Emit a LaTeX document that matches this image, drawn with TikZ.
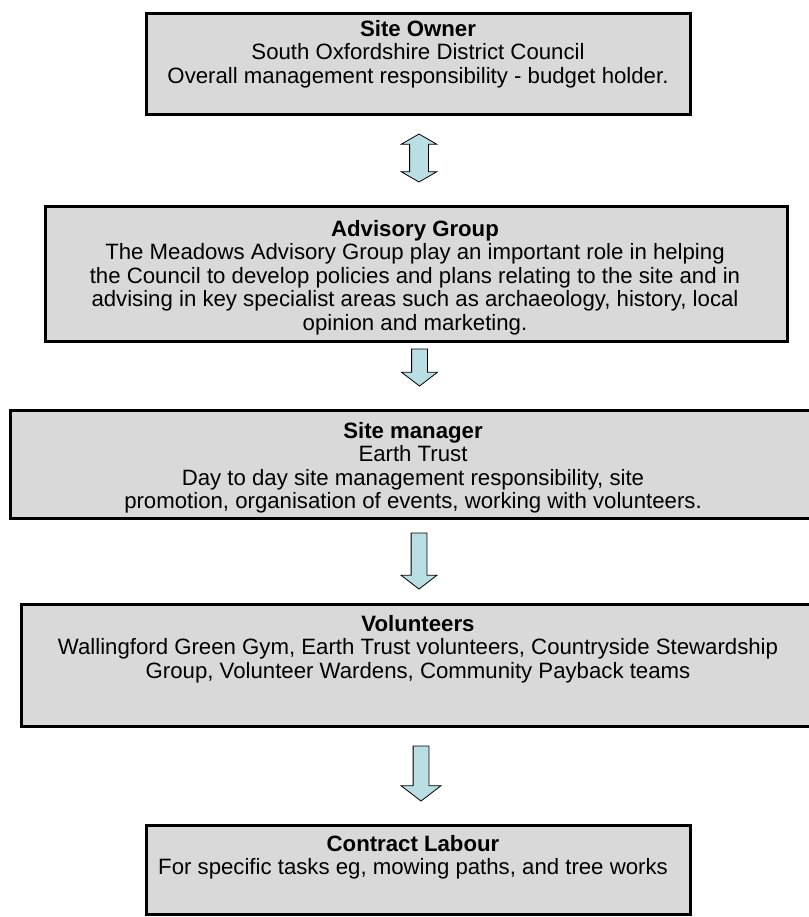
\documentclass[tikz,border=0pt]{standalone}
\usepackage{fontspec}
\setmainfont{Liberation Sans}
\usetikzlibrary{shapes.arrows}
\definecolor{boxgrey}{RGB}{217,217,217}
\definecolor{arrowblue}{RGB}{185,222,228}
\tikzset{orgbox/.style={rectangle, draw=black, line width=3pt, fill=boxgrey, inner sep=0pt},
  boxtext/.style={anchor=north, align=center, inner sep=0pt, font=\fontsize{22.2}{23.5}\selectfont},
  downarrow/.style={single arrow, draw=black, line width=0.8pt, fill=arrowblue, rotate=-90,
    inner xsep=0pt, inner ysep=7.5pt, single arrow head extend=10pt, single arrow head indent=0pt,
    single arrow tip angle=105},
  botharrow/.style={double arrow, draw=black, line width=0.8pt, fill=arrowblue, rotate=90,
    inner xsep=0pt, inner ysep=9pt, double arrow head extend=8.5pt, double arrow head indent=0pt,
    double arrow tip angle=120}}

\begin{document}
\begin{tikzpicture}[x=1pt,y=-1pt]
   \useasboundingbox (0,0) rectangle (808,917);
   % boxes
   \node[orgbox, minimum width=544pt, minimum height=101pt] (owner) at (418,64.5) {};
   \node[orgbox, minimum width=742pt, minimum height=134pt] (advisory) at (416,274) {};
   \node[orgbox, minimum width=808pt, minimum height=108pt] (manager) at (414,464) {};
   \node[orgbox, minimum width=794pt, minimum height=122pt] (volunteers) at (418,665) {};
   \node[orgbox, minimum width=544pt, minimum height=89pt] (contract) at (418,869.5) {};
   % texts
   \node[boxtext] (ownertxt) at (418,20) {\textbf{Site Owner}\\South Oxfordshire District Council\\Overall management responsibility - budget holder.};
   \node[boxtext] (advisorytxt) at (415,220) {\textbf{Advisory Group}\\The Meadows Advisory Group play an important role in helping\\the Council to develop policies and plans relating to the site and in\\advising in key specialist areas such as archaeology, history, local\\opinion and marketing.};
   \node[boxtext] (managertxt) at (413,422) {\textbf{Site manager}\\Earth Trust\\Day to day site management responsibility, site\\promotion, organisation of events, working with volunteers.};
   \node[boxtext] (volunteerstxt) at (418,615) {\textbf{Volunteers}\\Wallingford Green Gym, Earth Trust volunteers, Countryside Stewardship\\Group, Volunteer Wardens, Community Payback teams};
   \node[boxtext] (contracttxt) at (413,835) {\textbf{Contract Labour}\\For specific tasks eg, mowing paths, and tree works};
   % arrows
   \node[botharrow, minimum height=48pt] (a1) at (419,158) {};
   \node[downarrow, minimum height=37pt] (a2) at (419.5,364.5) {};
   \node[downarrow, minimum height=56pt] (a3) at (419,558) {};
   \node[downarrow, minimum height=55pt, single arrow head extend=12pt] (a4) at (421,770.5) {};
\end{tikzpicture}
\end{document}
